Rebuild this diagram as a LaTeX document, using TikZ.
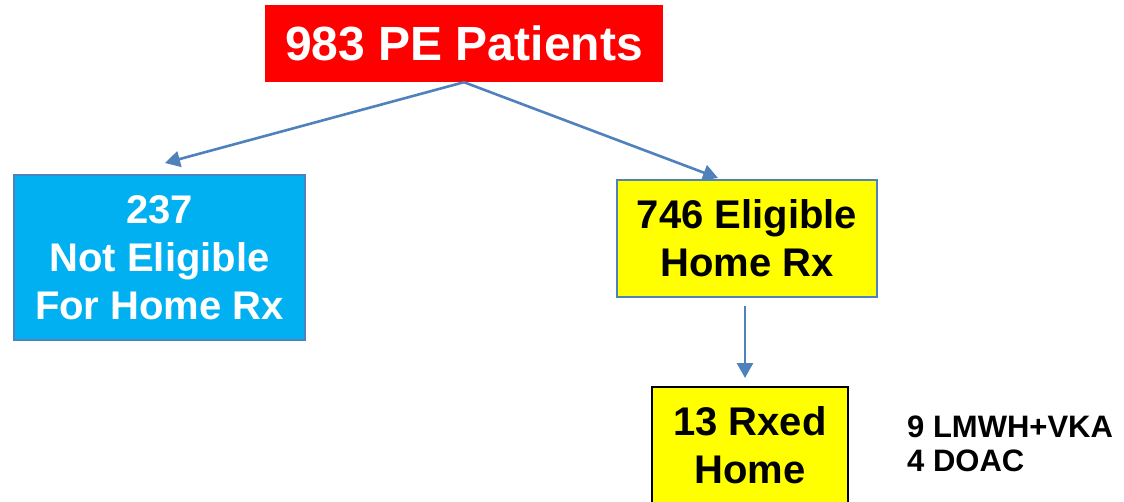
\documentclass[tikz,border=0pt]{standalone}
\usepackage{fontspec}
\setmainfont{Liberation Sans}
\usetikzlibrary{arrows.meta}
\definecolor{peRed}{RGB}{255,0,0}
\definecolor{skyBlue}{RGB}{0,176,240}
\definecolor{homeYellow}{RGB}{255,255,0}
\definecolor{lineBlue}{RGB}{79,129,189}
\begin{document}
\begin{tikzpicture}[x=1pt,y=-1pt,
    box/.style={draw=lineBlue,line width=2pt,align=center,inner sep=0pt,
      font=\bfseries\fontsize{40}{48}\selectfont},
    link/.style={lineBlue,line width=2.6pt,-{Triangle[length=15pt,width=16pt]}}]
  \useasboundingbox (0,0) rectangle (1124,501);
  \clip (0,0) rectangle (1124,501);
  % boxes
  \node[fill=peRed,text=white,inner sep=0pt,minimum width=398pt,minimum height=77pt,
    font=\bfseries\fontsize{48}{56}\selectfont] (pe) at (464,43.5) {983 PE Patients};
  \node[box,fill=skyBlue,text=white,minimum width=291pt,minimum height=165pt]
    (noelig) at (159.5,257.5) {237\\Not Eligible\\For Home Rx};
  \node[box,fill=homeYellow,minimum width=260pt,minimum height=117pt]
    (elig) at (747,238.5) {746 Eligible\\Home Rx};
  \node[box,draw=black,fill=homeYellow,minimum width=196pt,minimum height=117pt]
    (rxed) at (750,445.5) {13 Rxed\\Home};
  \node[anchor=west,align=left,inner sep=0pt,font=\bfseries\fontsize{31}{34}\selectfont]
    (drugs) at (907,444) {9 LMWH+VKA\\4 DOAC};
  % arrow ends
  \coordinate (leftTip) at (165,163);
  \coordinate (rightTip) at (718,178);
  \coordinate (downTip) at (745,378);
  \begin{scope}
    \draw[link] (pe.south) -- (leftTip);
    \draw[link] (pe.south) -- (rightTip);
    \draw[link,shorten <=8pt] (elig.south -| downTip) -- (downTip);
  \end{scope}
\end{tikzpicture}
\end{document}
